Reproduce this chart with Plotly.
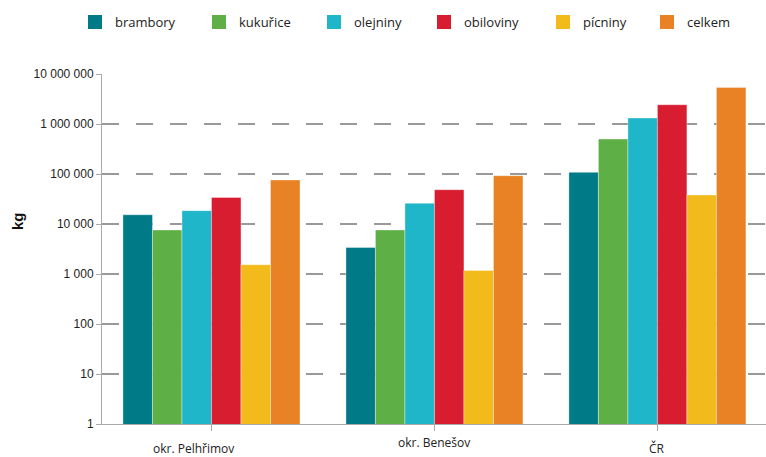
import plotly.graph_objects as go

categories = ["okr. Pelhřimov", "okr. Benešov", "ČR"]
series_names = ["brambory", "kukuřice", "olejniny", "obiloviny", "pícniny", "celkem"]
brambory = [15300, 3400, 108000]
kukurice = [7600, 7600, 500000]
olejniny = [18500, 26000, 1320000]
obiloviny = [34000, 48500, 2430000]
picniny = [1530, 1180, 38000]
celkem = [76000, 92500, 5400000]
tick_vals = [1, 10, 100, 1000, 10000, 100000, 1000000, 10000000]
tick_text = ["1", "10", "100", "1 000", "10 000", "100 000", "1 000 000", "10 000 000"]
y_title = "kg"

colors = ["#007A87", "#5DAF46", "#1FB6C9", "#D91D31", "#F2BA1A", "#E88225"]
values = [brambory, kukurice, olejniny, obiloviny, picniny, celkem]
legend_left = [87, 211, 326, 436, 555, 659]

fig = go.Figure()
for name, vals, col in zip(series_names, values, colors):
    fig.add_trace(go.Bar(
        x=list(range(len(categories))), y=vals, name=name, showlegend=False,
        marker=dict(color=col, line=dict(color="rgba(255,255,255,0.6)", width=0.6)),
    ))

# legend-only proxies on a hidden subplot, one legend per entry for exact placement
legend_layout = {}
for i, (name, col) in enumerate(zip(series_names, colors)):
    key = "legend" if i == 0 else f"legend{i+1}"
    fig.add_trace(go.Bar(
        x=[None], y=[None], name=name, xaxis="x2", yaxis="y2", showlegend=True,
        legend=key, marker=dict(color=col, line=dict(color=col, width=2)),
    ))
    legend_layout[key] = dict(
        orientation="h", xref="container", yref="container",
        x=(legend_left[i] - 12) / 766, y=1 - 7 / 457, xanchor="left", yanchor="top",
        font=dict(family="Open Sans", size=13, color="#222"),
        itemwidth=30, bgcolor="rgba(0,0,0,0)",
    )

label_shift = [-18, 0, 0]
label_yshift = [-24, -18, -24]
for i, c in enumerate(categories):
    fig.add_annotation(x=i, y=0, xref="x", yref="paper", text=c,
                       showarrow=False, yanchor="middle", xshift=label_shift[i],
                       yshift=label_yshift[i],
                       font=dict(family="Open Sans", size=12, color="#222"))

# y-axis title placed as in the reference (above the vertical centre)
fig.add_annotation(x=0, y=(424 - 221) / 350, xref="paper", yref="paper",
                   text=f"<b>{y_title}</b>", textangle=-90, showarrow=False,
                   xanchor="center", yanchor="middle", xshift=-85,
                   font=dict(family="Liberation Sans", size=15, color="#111"))

fig.update_layout(
    width=766, height=457,
    margin=dict(l=102, r=0, t=74, b=33),
    paper_bgcolor="white", plot_bgcolor="white",
    barmode="group", bargap=0.206, bargroupgap=0,
    showlegend=True,
    xaxis=dict(range=[-0.491, 2.487], tickmode="array", tickvals=[0, 1, 2],
               showticklabels=False,
               showline=True, linecolor="#aaaaaa", linewidth=1,
               ticks="outside", ticklen=6, tickcolor="#aaaaaa", tickson="boundaries",
               showgrid=False, zeroline=False, type="linear"),
    yaxis=dict(type="log", range=[0, 7], tickvals=tick_vals, ticktext=tick_text,
               showline=True, linecolor="#aaaaaa", linewidth=1,
               ticks="outside", ticklen=5, tickcolor="#aaaaaa",
               showgrid=True, gridcolor="#999999", gridwidth=1.5, griddash="17px,17px",
               tickfont=dict(family="Liberation Sans", size=12, color="#222")),
    xaxis2=dict(domain=[0, 0.001], visible=False, anchor="y2"),
    yaxis2=dict(domain=[0, 0.001], visible=False, anchor="x2"),
    **legend_layout,
)
fig.write_html("out.html")
